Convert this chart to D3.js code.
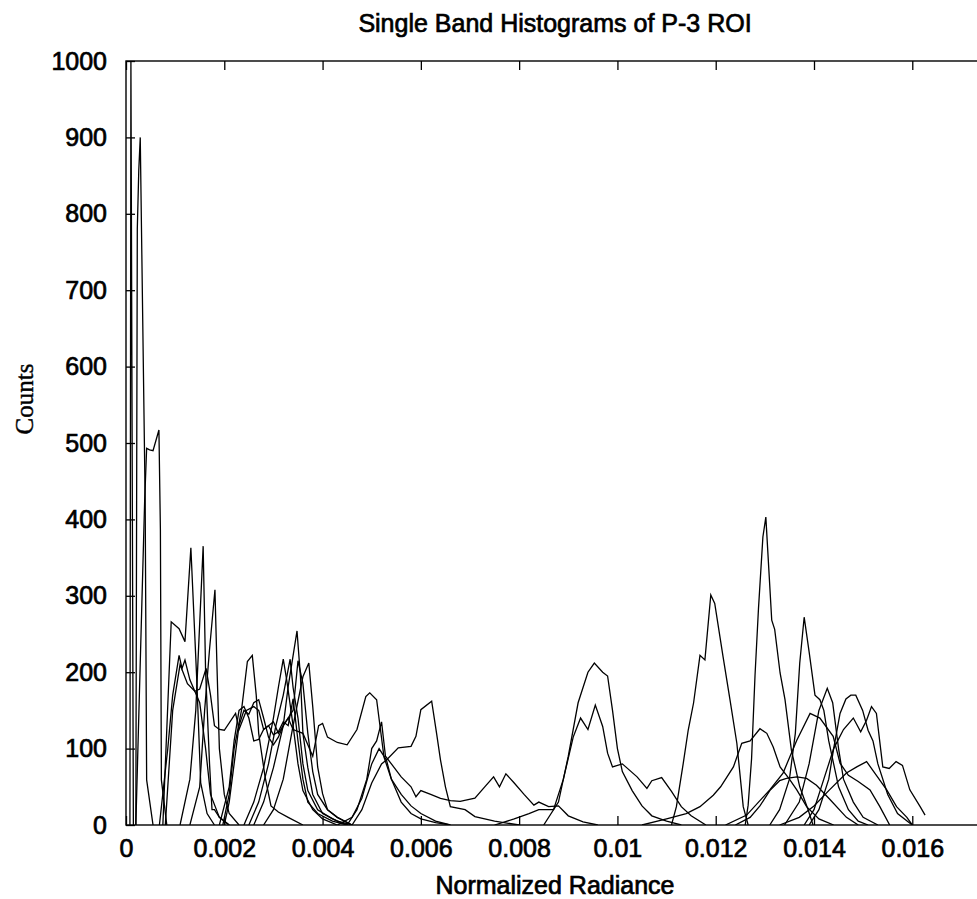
<!DOCTYPE html>
<html>
<head>
<meta charset="utf-8">
<script src="https://cdn.jsdelivr.net/npm/d3@7"></script>
<style>
  body { margin: 0; background: #fff; }
  #chart svg { display: block; }
</style>
</head>
<body>
<div id="chart"></div>
<script>
// x ticks / y ticks
var xTicks = [0, 0.002, 0.004, 0.006, 0.008, 0.01, 0.012, 0.014, 0.016];
var yTicks = [0, 100, 200, 300, 400, 500, 600, 700, 800, 900, 1000];

// one histogram per band: [normalized radiance, counts]
var band01 = [[0.00008, 0], [0.0001, 1000], [0.00015, 0]];
var band02 = [[0.0002, 0], [0.00023, 780], [0.00026, 857], [0.00029, 900], [0.00039, 425], [0.00042, 59], [0.00055, 0]];
var band03 = [[0.0002, 0], [0.00038, 425], [0.00042, 493], [0.00048, 491], [0.00055, 490], [0.00067, 517], [0.0007, 386], [0.00072, 59], [0.00083, 0]];
var band04 = [[0.00075, 0], [0.00092, 266], [0.00108, 257], [0.0012, 240], [0.00132, 363], [0.00144, 190], [0.00152, 55], [0.00165, 15], [0.0018, 0]];
var band05 = [[0.00068, 0], [0.00085, 100], [0.00095, 170], [0.00108, 222], [0.00114, 205], [0.0012, 216], [0.0013, 190], [0.00142, 172], [0.0015, 160], [0.00162, 100], [0.00172, 40], [0.0019, 10], [0.0021, 0]];
var band06 = [[0.0011, 0], [0.0013, 60], [0.00142, 150], [0.00157, 365], [0.00162, 200], [0.0017, 80], [0.00175, 20], [0.0018, 20], [0.0019, 10], [0.0021, 0]];
var band07 = [[0.0013, 0], [0.0015, 50], [0.0016, 150], [0.0017, 230], [0.00181, 308], [0.00185, 210], [0.0019, 100], [0.002, 40], [0.0021, 15], [0.0023, 0]];
var band08 = [[0.0008, 0], [0.00095, 150], [0.0011, 210], [0.00125, 185], [0.0014, 175], [0.0015, 178], [0.00163, 205], [0.00172, 170], [0.0018, 130],
  [0.0019, 125], [0.002, 124], [0.00223, 146], [0.0023, 125], [0.00245, 150], [0.0026, 155], [0.0027, 150], [0.0028, 125], [0.0029, 130], [0.003, 135],
  [0.0031, 120], [0.0033, 140], [0.0034, 125], [0.0036, 120], [0.0038, 90], [0.00392, 130], [0.004, 133], [0.0041, 115], [0.0043, 108], [0.0045, 105],
  [0.0047, 125], [0.00488, 168], [0.00496, 173], [0.0051, 164], [0.00525, 89], [0.0054, 60], [0.0056, 40], [0.0058, 25], [0.006, 15], [0.0063, 5], [0.0066, 0]];
var band09 = [[0.00197, 0], [0.0021, 40], [0.0022, 100], [0.00235, 150], [0.00247, 214], [0.00257, 222], [0.00265, 170], [0.0027, 120], [0.00283, 63], [0.00295, 25], [0.0031, 17], [0.0033, 10], [0.0036, 0]];
var band10 = [[0.0024, 0], [0.0026, 30], [0.0028, 75], [0.003, 140], [0.0031, 180], [0.0032, 217], [0.00327, 190], [0.0034, 130], [0.0035, 80], [0.0036, 45], [0.0038, 20], [0.004, 8], [0.0043, 0]];
var band11 = [[0.0025, 0], [0.0027, 30], [0.0029, 80], [0.00305, 130], [0.0032, 170], [0.00334, 217], [0.0034, 180], [0.0035, 140], [0.0036, 80], [0.0037, 45], [0.0039, 20], [0.0042, 8], [0.0045, 0]];
var band12 = [[0.0026, 0], [0.0028, 30], [0.003, 75], [0.0032, 130], [0.0033, 181], [0.00348, 254], [0.00355, 194], [0.0036, 120], [0.0037, 75], [0.0038, 40], [0.004, 15], [0.0043, 5], [0.0046, 0]];
var band13 = [[0.0028, 0], [0.003, 20], [0.0032, 60], [0.0034, 130], [0.0036, 194], [0.00372, 212], [0.0038, 155], [0.0039, 76], [0.004, 41], [0.0041, 20], [0.0043, 10], [0.0046, 0]];
var band14 = [[0.0019, 0], [0.0021, 50], [0.0022, 110], [0.0023, 150], [0.0024, 155], [0.0025, 140], [0.0026, 110], [0.0027, 112], [0.0028, 125], [0.0029, 130],
  [0.003, 118], [0.0031, 122], [0.0032, 135], [0.0033, 130], [0.0034, 165], [0.0035, 110], [0.0036, 60], [0.0037, 30], [0.0039, 15], [0.0042, 5], [0.0045, 0]];
var band15 = [[0.002, 0], [0.0021, 30], [0.0022, 80], [0.0023, 130], [0.0024, 150], [0.0025, 145], [0.0026, 160], [0.0027, 164], [0.0028, 140], [0.0029, 115],
  [0.003, 105], [0.0031, 115], [0.0032, 130], [0.0034, 150], [0.0035, 215], [0.0036, 185], [0.0037, 120], [0.0038, 70], [0.0039, 40], [0.0041, 20], [0.0043, 10], [0.0046, 0]];
var band16 = [[0.0045, 0], [0.0047, 20], [0.0049, 60], [0.005, 100], [0.0051, 110], [0.0052, 135], [0.00528, 90], [0.0054, 80], [0.0056, 63], [0.0058, 50], [0.0059, 37],
  [0.006, 45], [0.0062, 40], [0.0064, 35], [0.0066, 32], [0.0068, 31], [0.0071, 35], [0.0073, 50], [0.00748, 63], [0.0076, 50], [0.00773, 67], [0.0079, 55],
  [0.0081, 40], [0.0083, 26], [0.0084, 30], [0.0086, 24], [0.0088, 25], [0.009, 12], [0.0093, 4], [0.0096, 0]];
var band17 = [[0.0043, 0], [0.0046, 10], [0.0048, 35], [0.005, 80], [0.00515, 100], [0.0053, 85], [0.0054, 60], [0.0056, 30], [0.0058, 15], [0.006, 8], [0.0063, 3], [0.0066, 0]];
var band18 = [[0.0046, 0], [0.0048, 20], [0.005, 55], [0.0052, 80], [0.0053, 85], [0.00554, 101], [0.0058, 103], [0.0059, 116], [0.006, 151], [0.00622, 162],
  [0.00632, 120], [0.0064, 85], [0.0065, 50], [0.0066, 24], [0.0069, 20], [0.0071, 11], [0.0075, 5], [0.008, 0]];
var band19 = [[0.0085, 0], [0.0088, 30], [0.009, 90], [0.0092, 160], [0.0094, 200], [0.00953, 212], [0.0097, 200], [0.0098, 195], [0.0099, 150], [0.01, 100],
  [0.0101, 70], [0.0103, 45], [0.0105, 25], [0.0107, 12], [0.011, 5], [0.0113, 0]];
var band20 = [[0.0075, 0], [0.0079, 8], [0.0082, 15], [0.0084, 20], [0.0087, 20], [0.0089, 60], [0.0091, 115], [0.00925, 140], [0.0094, 125], [0.00955, 157],
  [0.0097, 129], [0.0098, 94], [0.0099, 76], [0.0101, 80], [0.0104, 63], [0.0106, 48], [0.0107, 58], [0.0109, 62], [0.0111, 44], [0.0113, 24], [0.0115, 12], [0.0118, 0]];
var band21 = [[0.0111, 0], [0.0112, 24], [0.01134, 81], [0.01144, 124], [0.01155, 160], [0.01168, 222], [0.01178, 216], [0.0119, 301], [0.01198, 290],
  [0.01215, 220], [0.01229, 164], [0.01243, 107], [0.01256, 24], [0.01266, 0]];
var band22 = [[0.0126, 0], [0.01266, 26], [0.01273, 87], [0.0128, 196], [0.01287, 283], [0.01296, 377], [0.01302, 403], [0.01314, 268], [0.0132, 256],
  [0.01331, 199], [0.01341, 164], [0.01354, 98], [0.01371, 50], [0.01388, 20], [0.01398, 0]];
var band23 = [[0.0131, 0], [0.0133, 20], [0.0135, 60], [0.01362, 120], [0.01371, 212], [0.0138, 272], [0.0139, 227], [0.01402, 170], [0.01412, 164],
  [0.0142, 150], [0.0143, 110], [0.0144, 80], [0.0145, 50], [0.0147, 20], [0.0149, 5], [0.0151, 0]];
var band24 = [[0.0134, 0], [0.0137, 30], [0.0139, 80], [0.0141, 150], [0.01427, 179], [0.01438, 160], [0.0145, 100], [0.0146, 60], [0.0148, 30], [0.015, 10], [0.0153, 0]];
var band25 = [[0.0139, 0], [0.0141, 20], [0.0143, 60], [0.0144, 100], [0.01453, 146], [0.01465, 165], [0.01475, 170], [0.01485, 170], [0.01499, 150],
  [0.0151, 124], [0.0152, 110], [0.0153, 80], [0.0155, 40], [0.0157, 15], [0.0159, 5], [0.016, 0]];
var band26 = [[0.0138, 0], [0.014, 20], [0.0142, 60], [0.0144, 100], [0.0146, 125], [0.0148, 140], [0.01495, 122], [0.01507, 137], [0.01517, 155],
  [0.01527, 146], [0.0154, 76], [0.01553, 74], [0.01567, 83], [0.0158, 78], [0.01595, 46], [0.01616, 24], [0.01626, 13]];
var band27 = [[0.0105, 0], [0.011, 8], [0.0114, 15], [0.01168, 24], [0.01195, 39], [0.0121, 50], [0.01236, 76], [0.01253, 107], [0.0127, 110], [0.0129, 126],
  [0.01304, 120], [0.01317, 102], [0.01331, 76], [0.0135, 60], [0.01365, 46], [0.01385, 24], [0.0141, 8], [0.0144, 0]];
var band28 = [[0.0122, 0], [0.01263, 13], [0.0131, 46], [0.01337, 68], [0.01365, 111], [0.01392, 146], [0.01412, 140], [0.01439, 116], [0.01453, 81],
  [0.0147, 65], [0.0149, 57], [0.01514, 46], [0.01534, 24], [0.01554, 0]];
var band29 = [[0.0133, 0], [0.0137, 10], [0.014, 25], [0.0143, 45], [0.01466, 68], [0.01487, 76], [0.01507, 83], [0.01527, 65], [0.01548, 46], [0.01568, 24], [0.01589, 10], [0.016, 0]];
var band30 = [[0.0124, 0], [0.0127, 10], [0.0129, 25], [0.0131, 45], [0.0133, 58], [0.01344, 61], [0.01365, 63], [0.01385, 61], [0.01405, 52], [0.01433, 33], [0.01466, 10], [0.0149, 0]];

var bands = [band01, band02, band03, band04, band05, band06, band07, band08, band09, band10,
  band11, band12, band13, band14, band15, band16, band17, band18, band19, band20,
  band21, band22, band23, band24, band25, band26, band27, band28, band29, band30];

//Set the dimensions of the chart
var W = 977, H = 899;
var margin = { top: 61, left: 126 },
    width = 860,
    height = 764;

var xScale = d3.scaleLinear().domain([0, 0.0175]).range([0, width]);
var yScale = d3.scaleLinear().domain([0, 1000]).range([height, 0]);

var svg = d3.select("#chart").append("svg")
    .attr("width", W)
    .attr("height", H)
    .style("background", "#fff");

var g = svg.append("g")
    .attr("transform", "translate(" + margin.left + "," + margin.top + ")");

g.append("defs").append("clipPath").attr("id", "plotClip")
    .append("rect").attr("x", 0).attr("y", -1).attr("width", width).attr("height", height + 1);

var fmt = function (d) { return d === 0 ? "0" : String(+d.toFixed(3)); };

var sans = "'Liberation Sans', Arial, sans-serif";
// scanned text looks heavy: regular face with a thin outline
function inkText(sel) {
  sel.attr("fill", "#000")
    .attr("stroke", "#000")
    .attr("stroke-width", 0.7)
    .style("font-family", sans)
    .style("font-size", "25px");
}

// ticks pointing inward, MATLAB style box
var tickLen = 9;
var xAxisB = d3.axisBottom(xScale).tickValues(xTicks).tickSize(-tickLen).tickSizeOuter(0).tickPadding(14).tickFormat(fmt);
var xAxisT = d3.axisTop(xScale).tickValues(xTicks).tickSize(-tickLen).tickSizeOuter(0).tickFormat("");
var yAxisL = d3.axisLeft(yScale).tickValues(yTicks).tickSize(-tickLen).tickSizeOuter(0).tickPadding(19).tickFormat(d3.format("d"));
var yAxisR = d3.axisRight(yScale).tickValues(yTicks).tickSize(-tickLen).tickSizeOuter(0).tickFormat("");

var axes = [
  g.append("g").attr("transform", "translate(0," + height + ")").call(xAxisB),
  g.append("g").call(xAxisT),
  g.append("g").call(yAxisL),
  g.append("g").attr("transform", "translate(" + width + ",0)").call(yAxisR)
];
axes.forEach(function (a) {
  a.select(".domain").remove();
  a.selectAll("line").attr("stroke", "#000").attr("stroke-width", 1.3);
  a.selectAll("text").call(inkText);
});

// frame
g.append("rect")
    .attr("x", 0).attr("y", 0)
    .attr("width", width).attr("height", height)
    .attr("fill", "none")
    .attr("stroke", "#000")
    .attr("stroke-width", 1.4);

// histogram lines
var lineFunction = d3.line()
    .x(function (d) { return xScale(d[0]); })
    .y(function (d) { return yScale(d[1]); });

g.append("g").attr("clip-path", "url(#plotClip)")
  .selectAll("path.band")
  .data(bands)
  .enter().append("path")
    .attr("class", "band")
    .attr("d", lineFunction)
    .attr("fill", "none")
    .attr("stroke", "#000")
    .attr("stroke-width", 1.3)
    .attr("stroke-linejoin", "miter");

// title and labels
svg.append("text")
    .attr("x", 555).attr("y", 32)
    .attr("text-anchor", "middle")
    .call(inkText)
    .text("Single Band Histograms of P-3 ROI");

svg.append("text")
    .attr("x", 555).attr("y", 894)
    .attr("text-anchor", "middle")
    .call(inkText)
    .text("Normalized Radiance");

svg.append("text")
    .attr("transform", "translate(33,399) rotate(-90)")
    .attr("text-anchor", "middle")
    .attr("fill", "#000")
    .attr("stroke", "#000")
    .attr("stroke-width", 0.4)
    .style("font-family", "'Liberation Serif', 'Times New Roman', serif")
    .style("font-size", "25px")
    .text("Counts");
</script>
</body>
</html>
